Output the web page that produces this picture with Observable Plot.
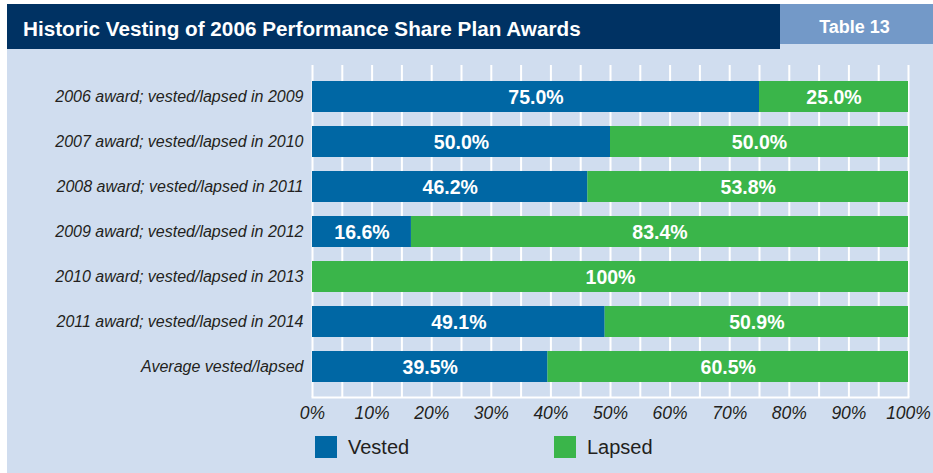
<!DOCTYPE html>
<html>
<head>
<meta charset="utf-8">
<script src="https://cdn.jsdelivr.net/npm/d3@7"></script>
<script src="https://cdn.jsdelivr.net/npm/@observablehq/plot@0.6"></script>
<style>
  html, body { margin: 0; padding: 0; background: #ffffff; }
  #wrap { position: relative; width: 933px; height: 473px; overflow: hidden; background: #ffffff; font-family: "Liberation Sans", Arial, sans-serif; }
  #panel { position: absolute; left: 7px; top: 4px; width: 926px; height: 469px; background: #d0ddef; }
  #title { position: absolute; left: 7px; top: 4px; width: 773px; height: 45px; background: #003263; color: #fff; font-weight: bold; font-size: 20.7px; line-height: 50px; box-sizing: border-box; padding-left: 16px; white-space: nowrap; overflow: hidden; }
  #tag { position: absolute; left: 780px; top: 4px; width: 153px; height: 40px; background: #7399c8; color: #fff; font-weight: bold; font-size: 18px; line-height: 47.5px; text-align: center; box-sizing: border-box; padding-right: 4px; white-space: nowrap; overflow: hidden; }
  #chart { position: absolute; left: 0; top: 49px; }
  #legend { position: absolute; left: 0; top: 425px; width: 933px; height: 48px; }
  .sw { position: absolute; top: 11px; width: 22px; height: 22px; }
  .lab { position: absolute; top: 10px; font-size: 20px; line-height: 24px; color: #231f20; }
</style>
</head>
<body>
<div id="wrap">
  <div id="panel"></div>
  <div id="title">Historic Vesting of 2006 Performance Share Plan Awards</div>
  <div id="tag">Table 13</div>
  <div id="chart"></div>
  <div id="legend"></div>
</div>
<script>
const categories = [
  "2006 award; vested/lapsed in 2009",
  "2007 award; vested/lapsed in 2010",
  "2008 award; vested/lapsed in 2011",
  "2009 award; vested/lapsed in 2012",
  "2010 award; vested/lapsed in 2013",
  "2011 award; vested/lapsed in 2014",
  "Average vested/lapsed"
];
const vested = [75.0, 50.0, 46.2, 16.6, 0, 49.1, 39.5];
const lapsed = [25.0, 50.0, 53.8, 83.4, 100, 50.9, 60.5];
const seriesNames = ["Vested", "Lapsed"];
const seriesColors = ["#0067a4", "#3ab54a"];
const xTicks = d3.range(0, 101, 10);
const gridTicks = d3.range(0, 101, 5);

const fmt = v => v === 100 ? "100%" : v.toFixed(1) + "%";

const table = [];
categories.forEach((c, i) => {
  const v = vested[i], l = lapsed[i];
  table.push({cat: c, series: "Vested", value: v, x1: 0, x2: v});
  table.push({cat: c, series: "Lapsed", value: l, x1: v, x2: v + l});
});

const chart = Plot.plot({
  width: 933,
  height: 376,
  marginTop: 16,
  marginBottom: 28,
  marginLeft: 312,
  marginRight: 25,
  style: {background: "transparent", fontFamily: "'Liberation Sans', Arial, sans-serif", color: "#231f20"},
  x: {domain: [0, 100]},
  y: {domain: categories, paddingInner: 0.316, paddingOuter: 0.33},
  color: {domain: seriesNames, range: seriesColors},
  marks: [
    Plot.ruleX(gridTicks, {x: d => d, stroke: "#ffffff", strokeWidth: 2}),
    Plot.frame({anchor: "bottom", stroke: "#ffffff", strokeWidth: 2}),
    Plot.barX(table.filter(d => d.value > 0), {x1: "x1", x2: "x2", y: "cat", fill: "series"}),
    Plot.text(table.filter(d => d.value > 0), {
      x: d => (d.x1 + d.x2) / 2, y: "cat", text: d => fmt(d.value),
      fill: "#ffffff", fontWeight: "bold", fontSize: 19.5, dy: 0.5
    }),
    Plot.axisY({tickSize: 0, tickPadding: 9, fontSize: 16, fontStyle: "italic", label: null, fill: "#231f20"}),
    Plot.axisX({ticks: xTicks, tickSize: 0, tickPadding: 9, fontSize: 17.5, fontStyle: "italic", label: null, tickFormat: d => d + "%", fill: "#231f20"})
  ]
});
document.getElementById("chart").appendChild(chart);

const legend = document.getElementById("legend");
const legendX = [315, 554];
seriesNames.forEach((s, i) => {
  const sw = document.createElement("div");
  sw.className = "sw";
  sw.style.left = legendX[i] + "px";
  sw.style.background = seriesColors[i];
  legend.appendChild(sw);
  const t = document.createElement("div");
  t.className = "lab";
  t.style.left = (legendX[i] + 33) + "px";
  t.textContent = s;
  legend.appendChild(t);
});
</script>
</body>
</html>
